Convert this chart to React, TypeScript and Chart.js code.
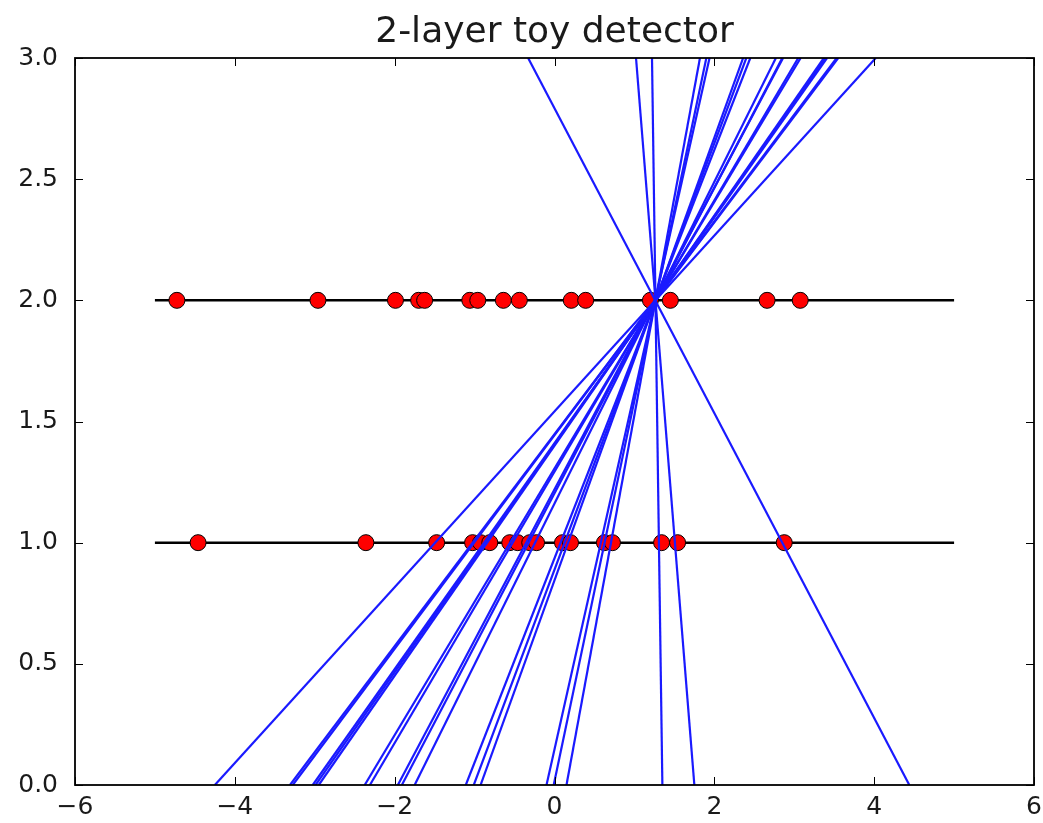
import React, { useEffect, useRef } from "react";
import { Chart, registerables } from "chart.js";

Chart.register(...registerables);

const TITLE = "2-layer toy detector";
const X_TICKS = [-6, -4, -2, 0, 2, 4, 6];
const Y_TICKS = [0, 0.5, 1, 1.5, 2, 2.5, 3];

// blue track lines: x at y=0 and x at y=3
const lineBottomX = [-4.25, -3.31, -3.275, -3.025, -2.99, -2.95, -2.375, -2.31, -1.96, -1.91, -1.75, -1.11, -1.01, -0.925, -0.1, -0.01, 0.15, 1.35, 1.75, 4.44];
const lineTopX = [4.02, 3.55, 3.53, 3.41, 3.39, 3.37, 3.08, 3.05, 2.86, 2.85, 2.77, 2.45, 2.40, 2.36, 1.94, 1.90, 1.82, 1.22, 1.02, -0.33];

// hits on layer y=2 and y=1
const layer2Hits = [-4.725, -2.96, -1.99, -1.70, -1.625, -1.06, -0.96, -0.64, -0.44, 0.21, 0.39, 1.20, 1.45, 2.66, 3.075];
const layer1Hits = [-4.46, -2.36, -1.475, -1.025, -0.925, -0.81, -0.56, -0.46, -0.31, -0.225, 0.10, 0.20, 0.625, 0.725, 1.34, 1.54, 2.875];

// detector layers
const layerY = [2, 1];
const layerXRange = [-5, 5];

const FONT = "'DejaVu Sans', sans-serif";

const frameTicks = {
  id: "frameTicks",
  afterDatasetsDraw(chart: any) {
    const { ctx, chartArea } = chart;
    const xs = chart.scales.x;
    const ys = chart.scales.y;
    const L = 8;
    ctx.save();
    ctx.strokeStyle = "#000";
    ctx.lineWidth = 1;
    ctx.beginPath();
    X_TICKS.forEach((v) => {
      const px = Math.round(xs.getPixelForValue(v)) + 0.5;
      ctx.moveTo(px, chartArea.bottom);
      ctx.lineTo(px, chartArea.bottom - L);
      ctx.moveTo(px, chartArea.top);
      ctx.lineTo(px, chartArea.top + L);
    });
    Y_TICKS.forEach((v) => {
      const py = Math.round(ys.getPixelForValue(v)) + 0.5;
      ctx.moveTo(chartArea.left, py);
      ctx.lineTo(chartArea.left + L, py);
      ctx.moveTo(chartArea.right, py);
      ctx.lineTo(chartArea.right - L, py);
    });
    ctx.stroke();
    ctx.lineWidth = 1.8;
    ctx.strokeRect(chartArea.left, chartArea.top, chartArea.right - chartArea.left, chartArea.bottom - chartArea.top);
    ctx.restore();
  },
};

export default function App() {
  const ref = useRef<HTMLCanvasElement | null>(null);
  useEffect(() => {
    if (!ref.current) return;
    const datasets: any[] = [];
    lineBottomX.forEach((b, i) => {
      datasets.push({
        type: "scatter",
        data: [{ x: b, y: 0 }, { x: lineTopX[i], y: 3 }],
        showLine: true,
        borderColor: "#1a1aff",
        borderWidth: 2.2,
        pointRadius: 0,
        order: 0,
      });
    });
    datasets.push({
      type: "scatter",
      data: layer2Hits.map((x) => ({ x, y: 2 })),
      backgroundColor: "#ff0000",
      borderColor: "#000000",
      borderWidth: 1,
      pointRadius: 8,
      order: 1,
    });
    datasets.push({
      type: "scatter",
      data: layer1Hits.map((x) => ({ x, y: 1 })),
      backgroundColor: "#ff0000",
      borderColor: "#000000",
      borderWidth: 1,
      pointRadius: 8,
      order: 1,
    });
    layerY.forEach((y) => {
      datasets.push({
        type: "scatter",
        data: [{ x: layerXRange[0], y }, { x: layerXRange[1], y }],
        showLine: true,
        borderColor: "#000000",
        borderWidth: 2.5,
        pointRadius: 0,
        order: 2,
      });
    });
    const chart = new Chart(ref.current, {
      type: "scatter",
      data: { datasets },
      options: {
        animation: false,
        responsive: false,
        events: [],
        layout: { padding: { left: 0, right: 8, top: 0, bottom: 0 } },
        plugins: {
          legend: { display: false },
          tooltip: { enabled: false },
          title: {
            display: true,
            text: TITLE,
            fullSize: false,
            color: "#1a1a1a",
            font: { family: FONT, size: 36, weight: "normal", lineHeight: 1.2 },
            padding: { top: 11, bottom: 3.8 },
          },
        },
        scales: {
          x: {
            type: "linear",
            min: -6,
            max: 6,
            afterFit: (s: any) => { s.height = 38; s.paddingLeft = 0; s.paddingRight = 0; },
            afterBuildTicks: (s: any) => { s.ticks = X_TICKS.map((v) => ({ value: v })); },
            grid: { display: false, drawTicks: false },
            border: { display: false },
            ticks: {
              autoSkip: false,
              maxRotation: 0,
              padding: 7,
              color: "#1a1a1a",
              font: { family: FONT, size: 25 },
              callback: (v: any) => (Number(v) < 0 ? "\u2212" + Math.abs(Number(v)) : String(v)),
            },
          },
          y: {
            type: "linear",
            min: 0,
            max: 3,
            afterFit: (s: any) => { s.width = 75; s.paddingTop = 0; s.paddingBottom = 0; },
            afterBuildTicks: (s: any) => { s.ticks = Y_TICKS.map((v) => ({ value: v })); },
            grid: { display: false, drawTicks: false },
            border: { display: false },
            ticks: {
              autoSkip: false,
              padding: 17,
              color: "#1a1a1a",
              font: { family: FONT, size: 25 },
              callback: (v: any) => Number(v).toFixed(1),
            },
          },
        },
      },
      plugins: [frameTicks],
    } as any);
    return () => chart.destroy();
  }, []);
  return (
    <div style={{ position: "absolute", left: 0, top: 0, width: 1043, height: 823, background: "#fff" }}>
      <canvas ref={ref} width={1043} height={823} style={{ width: 1043, height: 823 }} />
    </div>
  );
}
